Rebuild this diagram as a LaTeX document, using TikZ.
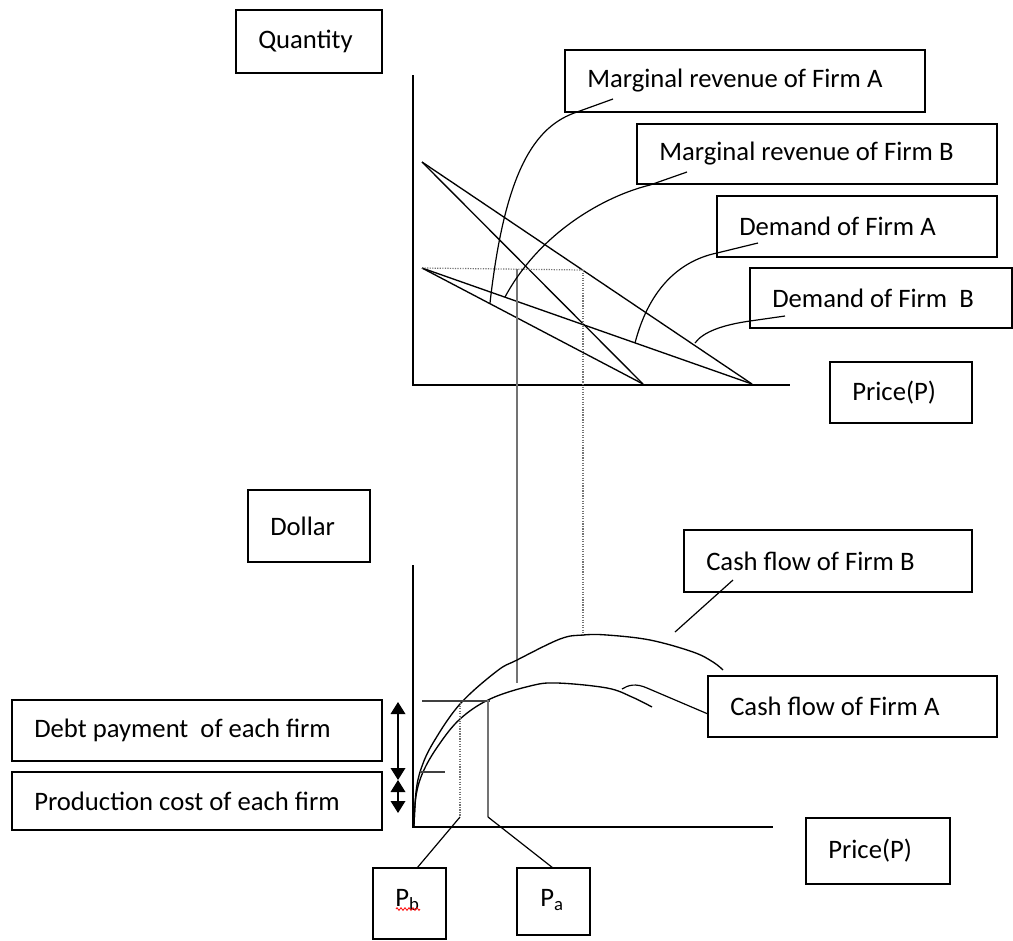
\documentclass[tikz,border=0pt]{standalone}
\usepackage{fontspec}
\setmainfont{Carlito}
\usetikzlibrary{arrows.meta,decorations.pathmorphing}
\newcommand\tbox[6]{%
  \node[boxsty, anchor=north west, minimum width={(#4-#2)*0.75pt}, minimum height={(#5-#3)*0.75pt}] (#1) at (#2,#3) {};
  \if\relax\detokenize{#6}\relax\else
  \node[txt] (#1t) at ([xshift=16.5pt]#1.west) {#6};\fi}
\begin{document}
\begin{tikzpicture}[x=0.75pt,y=-0.75pt,
  boxsty/.style={draw, line width=1.1pt, inner sep=0pt, outer sep=0pt},
  txt/.style={anchor=west, inner sep=0pt, font=\fontsize{20}{24}\selectfont},
  axis/.style={line width=1.4pt},
  curve/.style={line width=1pt},
  ptr/.style={line width=0.9pt},
  guide/.style={line width=0.8pt, black!55},
  dots/.style={line width=0.9pt, black!55, densely dotted},
  dimarrow/.style={line width=1pt, {Triangle[width=11pt,length=9pt]}-{Triangle[width=11pt,length=9pt]}}]
\useasboundingbox (0,0) rectangle (1013,940);
\fill[white] (0,0) rectangle (1013,940);

% ---------- label boxes ----------
\tbox{qty}{236}{10}{382}{73}{Quantity}
\tbox{mra}{565}{50}{925}{112}{Marginal revenue of Firm A}
\tbox{mrb}{637}{124}{997}{184}{Marginal revenue of Firm B}
\tbox{dma}{717}{196}{997}{257}{Demand of Firm A}
\tbox{dmb}{750}{268}{1012}{328}{Demand of Firm~ B}
\tbox{pt}{830}{362}{972}{423}{Price(P)}
\tbox{dol}{248}{490}{370}{562}{Dollar}
\tbox{cfb}{684}{530}{972}{592}{Cash flow of Firm B}
\tbox{cfa}{708}{676}{997}{737}{Cash flow of Firm A}
\tbox{debt}{12}{700}{382}{761}{Debt payment~ of each firm}
\tbox{prod}{12}{772}{382}{830}{Production cost of each firm}
\tbox{pbot}{806}{818}{950}{884}{Price(P)}
\tbox{pb}{373}{868}{446}{939}{}
\tbox{pa}{517}{868}{590}{935}{}
\node[txt, anchor=base west] (pbt) at (395,906) {P\textsubscript{b}};
\node[txt, anchor=base west] (pat) at (540,906) {P\textsubscript{a}};
\draw[red, line width=0.6pt, decorate, decoration={zigzag, segment length=3pt, amplitude=1pt}] (396,909) -- (420,909);

% ---------- top chart ----------
\coordinate (o1) at (413,385);
\coordinate (y1) at (413,75);
\coordinate (x1) at (790,385);
\draw[axis] (y1) -- (o1) -- (x1);

\coordinate (hiA) at (422,162);
\coordinate (hiB) at (422,268);
\coordinate (endD) at (752,384);
\coordinate (endM) at (643,384);
\draw[curve] (hiA) -- (endD);
\draw[curve] (hiA) -- (endM);
\draw[curve] (hiB) -- (endD);
\draw[curve] (hiB) -- (endM);

% dotted / guide lines
\coordinate (dq) at (583,270);
\coordinate (gq) at (517,269);
\draw[dots] (hiB) -- (dq);
\coordinate (cbpk) at (583,635);
\draw[dots] (dq) -- (cbpk);
\coordinate (gbot) at (517,683);
\draw[guide] (gq) -- (gbot);

% pointers
\coordinate (mraS) at (613,99);
\coordinate (mraB) at (577,112);
\coordinate (mraE) at (490,303);
\draw[ptr] (mraS) -- (mraB) .. controls (535,126) and (505,170) .. (mraE);
\coordinate (mrbS) at (687,172);
\coordinate (mrbB) at (650,185);
\coordinate (mrbE) at (505,297);
\draw[ptr] (mrbS) -- (mrbB) .. controls (605,196) and (540,232) .. (mrbE);
\coordinate (dmaS) at (758,243);
\coordinate (dmaB) at (717,253);
\coordinate (dmaE) at (635,343);
\draw[ptr] (dmaS) -- (dmaB) .. controls (683,260) and (650,285) .. (dmaE);
\coordinate (dmbS) at (785,316);
\coordinate (dmbB) at (750,321);
\coordinate (dmbE) at (695,343);
\draw[ptr] (dmbS) -- (dmbB) .. controls (722,325) and (703,332) .. (dmbE);

% ---------- bottom chart ----------
\coordinate (o2) at (413,827);
\coordinate (y2) at (413,565);
\coordinate (x2) at (773,827);
\draw[axis] (y2) -- (o2) -- (x2);

\draw[curve] plot[smooth, tension=0.6] coordinates {(414,826) (416,792) (421,769) (433,743) (460,704) (497,671) (517,660) (560,639) (583,635) (607,635) (650,640) (693,652) (713,662) (723,670)};
\draw[curve] plot[smooth, tension=0.6] coordinates {(414,826) (416,796) (423,772) (438,746) (460,719) (490,699) (530,686) (557,683) (607,688) (632,697) (652,707)};

\coordinate (cfbS) at (733,580);
\coordinate (cfbE) at (675,632);
\draw[ptr] (cfbS) -- (cfbE);
\coordinate (cfaS) at (708,714);
\coordinate (cfaB) at (647,688);
\coordinate (cfaE) at (622,689);
\draw[ptr] (cfaS) -- (cfaB) .. controls (636,683) and (628,685) .. (cfaE);

% debt and production levels
\coordinate (dl) at (422,701);
\coordinate (dr) at (490,701);
\draw[guide, black!75] (dl) -- (dr);
\coordinate (pl) at (420,772);
\coordinate (pr) at (445,772);
\draw[guide, black!75] (pl) -- (pr);

% price markers
\coordinate (pbt1) at (460,703);
\coordinate (pbb) at (460,817);
\draw[dots] (pbt1) -- (pbb);
\draw[ptr] (pbb) -- (pb.north -| 417,0);
\coordinate (pat1) at (488,700);
\coordinate (pab) at (488,817);
\draw[guide] (pat1) -- (pab);
\draw[ptr] (pab) -- (pa.north -| 553,0);

% dimension arrows
\coordinate (a1) at (398,702);
\coordinate (a2) at (398,780);
\coordinate (a3) at (398,813);
\draw[dimarrow] (a1) -- (a2);
\draw[dimarrow] (a2) -- (a3);

\end{tikzpicture}
\end{document}
